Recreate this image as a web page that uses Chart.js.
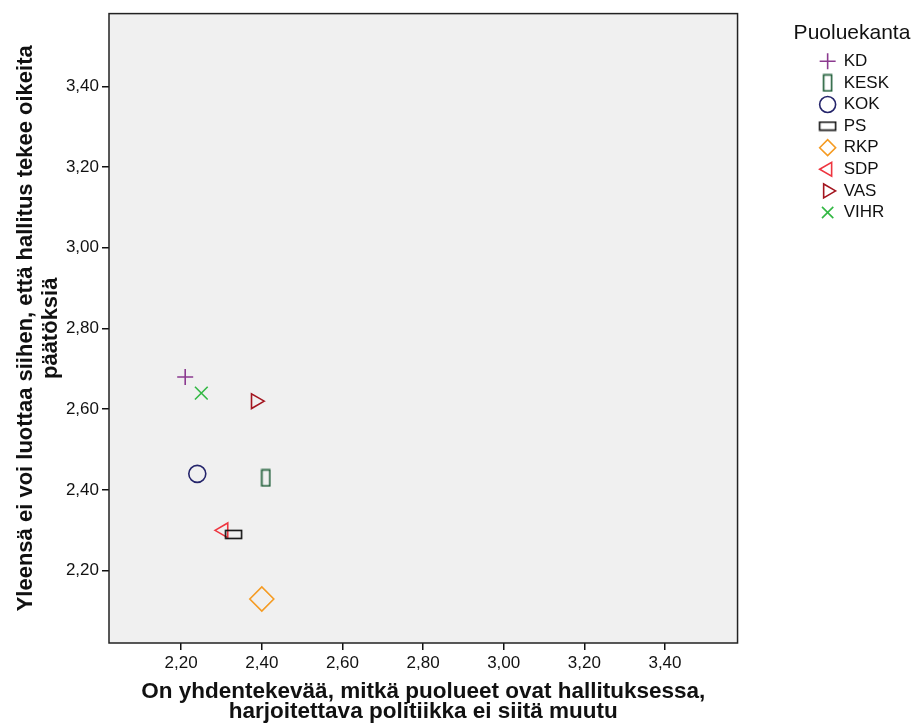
<!DOCTYPE html>
<html>
<head>
<meta charset="utf-8">
<script src="https://cdn.jsdelivr.net/npm/chart.js@4/dist/chart.umd.min.js"></script>
<style>
  body { margin: 0; background: #fff; }
  canvas { display: block; }
</style>
</head>
<body>
<canvas id="scatter" width="914" height="726" style="width:914px;height:726px"></canvas>
<script>
const parties = ["KD", "KESK", "KOK", "PS", "RKP", "SDP", "VAS", "VIHR"];
const xValues = [2.21, 2.41, 2.24, 2.33, 2.40, 2.305, 2.385, 2.25];
const yValues = [2.68, 2.43, 2.44, 2.29, 2.13, 2.30, 2.62, 2.64];
const tickValues = [2.2, 2.4, 2.6, 2.8, 3.0, 3.2, 3.4];
const legendTitle = "Puoluekanta";

const colors = ["#8b3a8f", "#1d5c36", "#25256b", "#111111", "#f59b22", "#ee3640", "#a3151f", "#33b844"];
const FONT = "'Liberation Sans', Arial, sans-serif";

// pienet suorakulmiot KESK / PS -merkeille
function rectMarker(w, h, color) {
  const c = document.createElement("canvas");
  c.width = w + 3;
  c.height = h + 3;
  const g = c.getContext("2d");
  g.strokeStyle = color;
  g.lineWidth = 1.6;
  g.strokeRect(1.5, 1.5, w, h);
  return c;
}

const styles = [
  { pointStyle: "cross", radius: 8, rotation: 0 },
  { pointStyle: rectMarker(8, 16, colors[1]), radius: 8, rotation: 0 },
  { pointStyle: "circle", radius: 8.5, rotation: 0 },
  { pointStyle: rectMarker(16, 8, colors[3]), radius: 8, rotation: 0 },
  { pointStyle: "rectRot", radius: 12, rotation: 0 },
  { pointStyle: "triangle", radius: 8.5, rotation: -90 },
  { pointStyle: "triangle", radius: 8.5, rotation: 90 },
  { pointStyle: "crossRot", radius: 9, rotation: 0 }
];

const datasets = parties.map((p, i) => ({
  label: p,
  data: [{ x: xValues[i], y: yValues[i] }],
  pointStyle: styles[i].pointStyle,
  pointRadius: styles[i].radius,
  pointHoverRadius: styles[i].radius,
  pointRotation: styles[i].rotation,
  borderColor: colors[i],
  backgroundColor: "rgba(0,0,0,0)",
  pointBorderWidth: 1.6,
  borderWidth: 1.6
}));

const plotFrame = {
  id: "plotFrame",
  beforeDatasetsDraw(chart) {
    const a = chart.chartArea;
    const ctx = chart.ctx;
    ctx.save();
    ctx.fillStyle = "#f0f0f0";
    ctx.fillRect(a.left, a.top, a.right - a.left, a.bottom - a.top);
    ctx.strokeStyle = "#222";
    ctx.lineWidth = 1.5;
    ctx.strokeRect(a.left, a.top, a.right - a.left, a.bottom - a.top);
    ctx.restore();
  },
  // legendan otsikko piirretään erikseen, ettei se leikkaudu
  afterDraw(chart) {
    const ctx = chart.ctx;
    ctx.save();
    ctx.font = "21px " + FONT;
    ctx.fillStyle = "#111";
    ctx.textAlign = "center";
    ctx.textBaseline = "middle";
    ctx.fillText(legendTitle, 852, 33);
    ctx.restore();
  }
};

const fmt = v => v.toFixed(2).replace(".", ",");
const setTicks = scale => { scale.ticks = tickValues.map(v => ({ value: v })); };

const axisBase = {
  type: "linear",
  min: 2.021,
  max: 3.58,
  afterBuildTicks: setTicks,
  border: { display: false },
  grid: { drawOnChartArea: false, drawTicks: true, tickLength: 7, color: "#111", lineWidth: 1.5 },
  ticks: {
    color: "#111",
    font: { family: FONT, size: 17 },
    padding: 3,
    callback: v => fmt(v)
  }
};

Chart.defaults.font.family = FONT;

new Chart(document.getElementById("scatter"), {
  type: "scatter",
  data: { datasets },
  options: {
    responsive: false,
    animation: false,
    layout: { padding: { top: 12, left: 4, right: 15, bottom: 4 } },
    plugins: {
      tooltip: { enabled: false },
      legend: {
        position: "right",
        align: "start",
        title: {
          display: true,
          text: " ",
          font: { size: 21 },
          padding: { top: 5, bottom: 6 }
        },
        labels: {
          usePointStyle: true,
          boxHeight: 11.3,
          boxWidth: 15,
          padding: 4.6,
          color: "#111",
          font: { size: 17 }
        }
      }
    },
    scales: {
      x: {
        ...axisBase,
        afterFit: s => { s.height = 79; },
        title: {
          display: true,
          text: ["On yhdentekevää, mitkä puolueet ovat hallituksessa,", "harjoitettava politiikka ei siitä muutu"],
          color: "#111",
          font: { size: 22.5, weight: "bold", lineHeight: 0.89 },
          padding: { top: 12, bottom: 0 }
        }
      },
      y: {
        ...axisBase,
        afterFit: s => { s.width = 105; },
        title: {
          display: true,
          text: ["Yleensä ei voi luottaa siihen, että hallitus tekee oikeita", "päätöksiä"],
          color: "#111",
          font: { size: 22, weight: "bold", lineHeight: 1.14 },
          padding: { top: 9, bottom: 4 }
        }
      },
      gap: {
        type: "linear",
        position: "right",
        display: true,
        ticks: { display: false },
        grid: { display: false },
        border: { display: false },
        afterFit: s => { s.width = 78; }
      }
    }
  },
  plugins: [plotFrame]
});
</script>
</body>
</html>
